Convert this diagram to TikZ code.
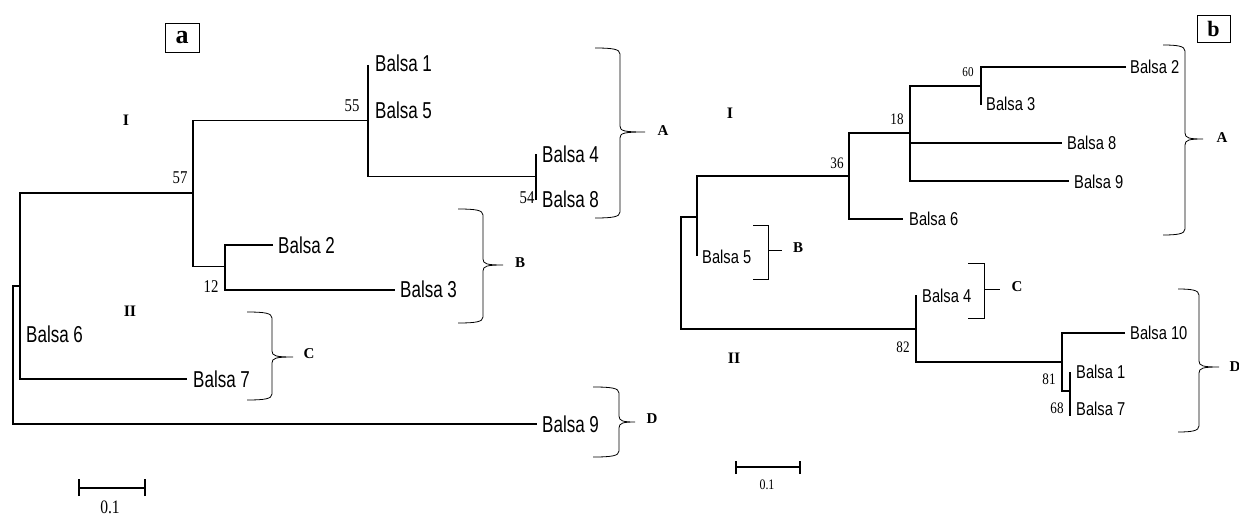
\documentclass[tikz,border=0pt]{standalone}
\usepackage{fontspec}
\setmainfont{Liberation Serif}
\newfontfamily\lsans[FakeStretch=0.74]{Liberation Sans}
\newfontfamily\rsans[FakeStretch=0.79]{Liberation Sans}
\newfontfamily\nserif[FakeStretch=0.82]{Liberation Serif}
\newcommand{\mybrace}[6]{% x0, x1, ytop, ymid, ybot, xtip
  \draw[br] (#1,#3) .. controls (#2-8,#3) and (#2,#3+1) .. (#2,#3+6) -- (#2,#4-6)
    .. controls (#2,#4-1) and (#2+4,#4) .. (#6,#4)
    .. controls (#2+4,#4) and (#2,#4+1) .. (#2,#4+6) -- (#2,#5-6)
    .. controls (#2,#5-1) and (#2-8,#5) .. (#1,#5);}
\tikzset{
  tree/.style={line width=1.5pt},
  treeR/.style={line width=1.3pt},
  br/.style={line width=0.8pt},
  leafL/.style={anchor=west, inner sep=0pt, font=\lsans\fontsize{23}{26}\selectfont},
  leafR/.style={anchor=west, inner sep=0pt, font=\rsans\fontsize{18.6}{20}\selectfont},
  bootL/.style={inner sep=0pt, font=\nserif\fontsize{18}{20}\selectfont},
  bootR/.style={inner sep=0pt, font=\nserif\fontsize{16}{18}\selectfont},
  grp/.style={inner sep=0pt, font=\bfseries\fontsize{16}{18}\selectfont},
  clu/.style={inner sep=0pt, font=\bfseries\fontsize{15}{17}\selectfont},
  panel/.style={draw, line width=0.8pt, inner sep=0pt, font=\bfseries},
}
\begin{document}
\begin{tikzpicture}[x=1pt,y=-1pt]
\useasboundingbox (0,0) rectangle (1239,516);
\fill[white] (0,0) rectangle (1239,516);

% ================= panel a =================
\node[panel, minimum width=34pt, minimum height=29pt, font=\bfseries\fontsize{26}{28}\selectfont] (pa) at (182,37.5) {a};

\coordinate (aR) at (13,355);
\coordinate (aN1) at (20,286);
\coordinate (aN57) at (193,193);
\coordinate (aN55) at (368,120.7);
\coordinate (aN54) at (536,176.7);
\coordinate (aN12) at (225,266.7);
\coordinate (at1) at (368,65);
\coordinate (at4) at (536,154);
\coordinate (at8) at (536,200);
\coordinate (at2) at (273,245);
\coordinate (at3) at (395,290);
\coordinate (at7) at (187,379);
\coordinate (at9) at (537,424);

\draw[tree] (aN1) -| (aR) |- (at9);
\draw[tree] (aN57) -| (aN1) |- (at7);
\draw[tree] (aN55) -| (aN57) |- (aN12);
\draw[tree] (at1) -- (aN55) |- (aN54);
\draw[tree] (at4) -- (at8);
\draw[tree] (at2) -| (aN12) |- (at3);

\node[leafL] (la1) at (375,63) {Balsa 1};
\node[leafL] (la5) at (375,110) {Balsa 5};
\node[leafL] (la4) at (542,154) {Balsa 4};
\node[leafL] (la8) at (542,199) {Balsa 8};
\node[leafL] (la2) at (278,245) {Balsa 2};
\node[leafL] (la3) at (400,289) {Balsa 3};
\node[leafL] (la6) at (26,334) {Balsa 6};
\node[leafL] (la7) at (193,379) {Balsa 7};
\node[leafL] (la9) at (542,424) {Balsa 9};

\node[bootL] (b57) at (180,178) {57};
\node[bootL] (b55) at (352,106) {55};
\node[bootL] (b54) at (527,198) {54};
\node[bootL] (b12) at (211,287) {12};

\node[grp] (aI) at (126,120) {I};
\node[grp] (aII) at (130,311) {II};

\mybrace{595}{620}{48}{132}{218}{645}
\mybrace{458}{483}{209}{265}{323}{503}
\mybrace{247}{272}{312}{357}{400}{293}
\mybrace{593}{619}{387}{422}{457}{635}
\node[clu] (aA) at (663,131) {A};
\node[clu] (aB) at (520,263) {B};
\node[clu] (aC) at (309,354) {C};
\node[clu] (aD) at (652,419) {D};

\coordinate (asL) at (79,488);
\coordinate (asR) at (145,488);
\draw[line width=1.1pt] (asL) -- (asR);
\draw[line width=1.1pt] ([yshift=-8pt]asL) -- ([yshift=9pt]asL);
\draw[line width=1.1pt] ([yshift=-8pt]asR) -- ([yshift=9pt]asR);
\node[bootL, font=\nserif\fontsize{19}{21}\selectfont] (asT) at (110,507) {0.1};

% ================= panel b =================
\node[panel, minimum width=33pt, minimum height=27pt, font=\bfseries\fontsize{22}{24}\selectfont] (pb) at (1213.5,28.5) {b};

\coordinate (bR) at (681,273);
\coordinate (bM1) at (697,217);
\coordinate (bN36) at (849,176);
\coordinate (bN18) at (910,133);
\coordinate (bN60) at (981,86);
\coordinate (bN82) at (916,329);
\coordinate (bN81) at (1062,362);
\coordinate (bN68) at (1070,391);
\coordinate (bt5) at (697,256);
\coordinate (bt6) at (903,219);
\coordinate (bt2) at (1126,67);
\coordinate (bt3) at (981,105);
\coordinate (bt8) at (1062,143);
\coordinate (bt9) at (1069,181);
\coordinate (bt4) at (916,295);
\coordinate (bt10) at (1125,333);
\coordinate (bt1) at (1070,372);
\coordinate (bt7) at (1070,416);

\draw[treeR] (bM1) -| (bR) |- (bN82);
\draw[treeR] (bN36) -| (bM1) |- (bt5);
\draw[treeR] (bN18) -| (bN36) |- (bt6);
\draw[treeR] (bN60) -| (bN18) |- (bt9);
\draw[treeR] (bN18 |- bt8) -- (bt8);
\draw[treeR] (bt2) -| (bN60) |- (bt3);
\draw[treeR] (bt4) -- (bN82) |- (bN81);
\draw[treeR] (bt10) -| (bN81) |- (bN68);
\draw[treeR] (bt1) -- (bt7);

\node[leafR] (lb2) at (1130,67) {Balsa 2};
\node[leafR] (lb3) at (986,104) {Balsa 3};
\node[leafR] (lb8) at (1067,143) {Balsa 8};
\node[leafR] (lb9) at (1074,182) {Balsa 9};
\node[leafR] (lb6) at (909,219) {Balsa 6};
\node[leafR] (lb5) at (702,257) {Balsa 5};
\node[leafR] (lb4) at (922,296) {Balsa 4};
\node[leafR] (lb10) at (1130,333) {Balsa 10};
\node[leafR] (lb1) at (1076,372) {Balsa 1};
\node[leafR] (lb7) at (1076,409) {Balsa 7};

\node[bootR, font=\nserif\fontsize{13.5}{15}\selectfont] (c60) at (968,72) {60};
\node[bootR] (c18) at (897,119) {18};
\node[bootR] (c36) at (837,163) {36};
\node[bootR] (c82) at (903,347) {82};
\node[bootR] (c81) at (1049,379) {81};
\node[bootR] (c68) at (1057,408) {68};

\node[grp] (bI) at (730,113) {I};
\node[grp] (bII) at (734,358) {II};

\mybrace{1163}{1185}{45}{139}{235}{1203}
\mybrace{1178}{1199}{289}{367}{432}{1219}
\draw[br] (753,225) -- (768,225) -- (768,279) -- (753,279);
\draw[br] (768,250) -- (782,250);
\draw[br] (968,263) -- (984,263) -- (984,318) -- (968,318);
\draw[br] (984,289) -- (1000,289);
\node[clu] (bA) at (1222,138) {A};
\node[clu] (bB) at (798,248) {B};
\node[clu] (bC) at (1017,287) {C};
\node[clu] (bD) at (1235,367) {D};

\coordinate (bsL) at (736,467);
\coordinate (bsR) at (800,467);
\draw[line width=1.1pt] (bsL) -- (bsR);
\draw[line width=1.1pt] ([yshift=-7pt]bsL) -- ([yshift=6pt]bsL);
\draw[line width=1.1pt] ([yshift=-7pt]bsR) -- ([yshift=6pt]bsR);
\node[bootR, font=\nserif\fontsize{14.5}{16}\selectfont] (bsT) at (767,485) {0.1};
\end{tikzpicture}
\end{document}
